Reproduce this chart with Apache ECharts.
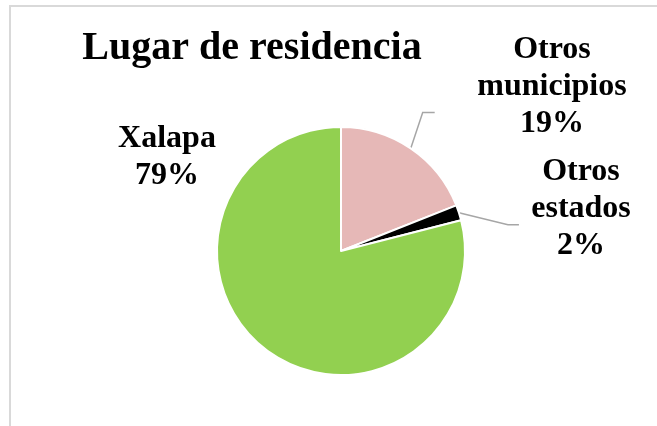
<!DOCTYPE html>
<html>
<head>
<meta charset="utf-8">
<script src="https://cdn.jsdelivr.net/npm/echarts@6/dist/echarts.min.js"></script>
<style>
	html, body { margin: 0; padding: 0; background: #fff; }
	.container { position: relative; width: 657px; height: 426px; overflow: hidden; }
	.frame {
		position: absolute; left: 9px; top: 5px;
		width: 700px; height: 500px;
		border: 2px solid #d9d9d9;
		pointer-events: none;
	}
	#chart { position: absolute; left: 0; top: 0; width: 657px; height: 426px; }
</style>
</head>
<body>
<div class="container">
	<div class="frame"></div>
	<div id="chart"></div>
</div>
<script>
	// datos
	const categories = ['Otros municipios', 'Otros estados', 'Xalapa'];
	const labelNames = ['Otros\nmunicipios', 'Otros\nestados', 'Xalapa'];
	const values = [19, 2, 79];
	const colors = ['#e6b8b7', '#000000', '#92d050'];

	// posicion de cada etiqueta (centro del bloque de texto)
	const labelPos = [[552, 87], [581, 209], [167, 157]];

	const chart = echarts.init(document.getElementById('chart'));

	chart.setOption({
		animation: false,
		title: {
			text: 'Lugar de residencia',
			left: 247,
			top: 24,
			textAlign: 'center',
			textStyle: {
				fontFamily: 'Liberation Serif',
				fontWeight: 'bold',
				fontSize: 40,
				color: '#000'
			}
		},
		series: [{
			type: 'pie',
			center: [341, 251],
			radius: 124,
			startAngle: 90,
			emphasis: { disabled: true },
			itemStyle: { borderColor: '#fff', borderWidth: 2 },
			label: {
				show: true,
				position: 'outside',
				fontFamily: 'Liberation Serif',
				fontWeight: 'bold',
				fontSize: 32,
				lineHeight: 37,
				color: '#000',
				formatter: function (p) {
					return labelNames[p.dataIndex] + '\n' + Math.round(p.percent) + '%';
				}
			},
			labelLine: {
				show: true,
				lineStyle: { color: '#a6a6a6', width: 1.5 }
			},
			labelLayout: function (p) {
				const pos = labelPos[p.dataIndex];
				const out = { x: pos[0], y: pos[1], align: 'center', verticalAlign: 'middle' };
				const pts = p.labelLinePoints;
				if (pts && pts.length) {
					const a = pts[0];
					let b, c;
					if (p.dataIndex === 0) {
						b = [a[0] + 12, a[1] - 36];
						c = [b[0] + 12, b[1]];
					} else {
						b = [a[0] + 49, a[1] + 12];
						c = [b[0] + 11, b[1]];
					}
					out.labelLinePoints = [a, b, c];
				}
				return out;
			},
			data: categories.map(function (name, i) {
				const item = {
					name: name,
					value: values[i],
					itemStyle: { color: colors[i] }
				};
				if (i === 2) item.labelLine = { show: false };
				return item;
			})
		}]
	});
</script>
</body>
</html>
